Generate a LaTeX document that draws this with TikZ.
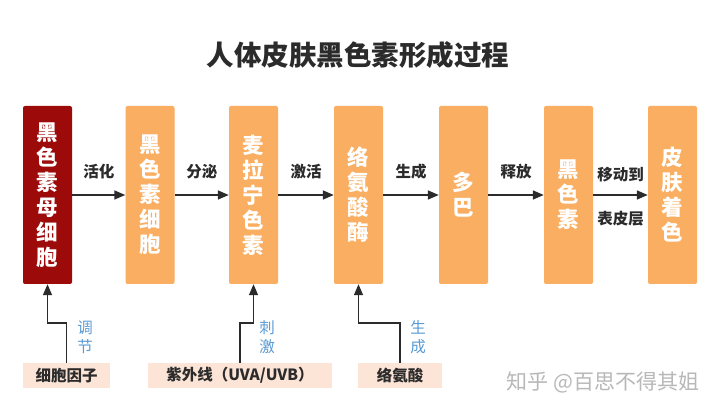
\documentclass[tikz,border=0pt]{standalone}
\usepackage{fontspec}
\newfontfamily\cjk{Noto Sans CJK SC}
\usetikzlibrary{arrows.meta}
\definecolor{darkred}{HTML}{9C0A0A}
\definecolor{boxorange}{HTML}{F9AE61}
\definecolor{peach}{HTML}{FCE4D6}
\definecolor{labblue}{HTML}{5B9BD5}
\definecolor{txtgray}{HTML}{2B2B2B}
\tikzset{
  stepbox/.style={rounded corners=2pt, minimum width=49pt, minimum height=178pt, inner sep=0pt,
    fill=boxorange, text=white, align=center, font=\cjk\bfseries\fontsize{21.5}{25}\selectfont},
  srcbox/.style={fill=peach, minimum height=25pt, inner sep=0pt, text=txtgray,
    font=\cjk\bfseries\fontsize{15.5}{18}\selectfont},
  arr/.style={-{Triangle[length=11pt,width=9pt]}, line width=1.4pt, draw=txtgray},
  lab/.style={text=txtgray, font=\cjk\bfseries\fontsize{15.5}{18}\selectfont},
  blab/.style={text=labblue, align=center, font=\cjk\fontsize{15.5}{19}\selectfont},
}
\begin{document}
\begin{tikzpicture}[x=1pt,y=-1pt]
    \useasboundingbox [fill=white] (0,0) rectangle (720,411);
    % title
    \node (title) [text=txtgray, font=\cjk\bfseries\fontsize{27.5}{30}\selectfont] at (358,55) {人体皮肤黑色素形成过程};
    % steps
    \node (b1) [stepbox, fill=darkred] at (47.5,195) {黑\\色\\素\\母\\细\\胞};
    \node (b2) [stepbox] at (150,195) {黑\\色\\素\\细\\胞};
    \node (b3) [stepbox] at (253.5,195) {麦\\拉\\宁\\色\\素};
    \node (b4) [stepbox] at (358.5,195) {络\\氨\\酸\\酶};
    \node (b5) [stepbox] at (463.5,195) {多\\巴};
    \node (b6) [stepbox] at (568.5,195) {黑\\色\\素};
    \node (b7) [stepbox] at (672.5,195) {皮\\肤\\着\\色};
    % arrows
    \draw [arr] (b1) -- (b2) node [lab, midway, yshift=23pt] (l1) {活化};
    \draw [arr] (b2) -- (b3) node [lab, midway, yshift=23pt] (l2) {分泌};
    \draw [arr] (b3) -- (b4) node [lab, midway, yshift=23pt] (l3) {激活};
    \draw [arr] (b4) -- (b5) node [lab, midway, yshift=23pt] (l4) {生成};
    \draw [arr] (b5) -- (b6) node [lab, midway, yshift=23pt] (l5) {释放};
    \draw [arr] (b6) -- (b7) node [lab, midway, yshift=20pt] (l6) {移动到}
                             node [lab, midway, yshift=-24pt] (l7) {表皮层};
    % sources
    \node (f1) [srcbox, minimum width=87pt] at (66.5,375.5) {细胞因子};
    \node (f2) [srcbox, minimum width=184pt] at (240,375.5) {紫外线（UVA/UVB）};
    \node (f3) [srcbox, minimum width=84pt] at (400,375.5) {络氨酸};
    \coordinate (k) at (0,323);
    \draw [arr] (f1.north) -- (f1.north |- k) -| (b1.south);
    \draw [arr] (f2.north) -- (f2.north |- k) -| (b3.south);
    \draw [arr] (f3.north) -- (f3.north |- k) -| (b4.south);
    \node (s1) [blab] at (85,337) {调\\节};
    \node (s2) [blab] at (267,337) {刺\\激};
    \node (s3) [blab] at (418,337) {生\\成};
    % watermark
    \node (wm) [text=black!28, font=\cjk\fontsize{21}{23}\selectfont] at (603,382) {知乎 @百思不得其姐};
\end{tikzpicture}
\end{document}
